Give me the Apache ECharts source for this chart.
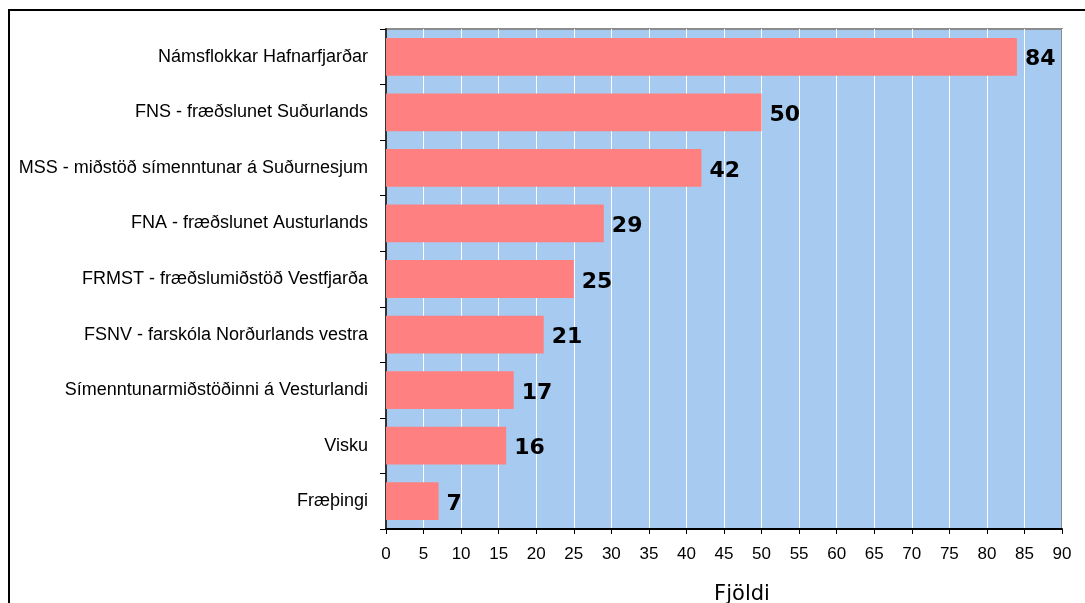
<!DOCTYPE html>
<html>
<head>
<meta charset="utf-8">
<script src="https://cdn.jsdelivr.net/npm/echarts@6/dist/echarts.min.js"></script>
<style>
  html, body { margin: 0; padding: 0; background: #fff; overflow: hidden; }
  .frame {
    position: absolute; left: 8px; top: 9px;
    width: 1200px; height: 700px;
    border: 2px solid #000; box-sizing: border-box;
  }
  .chart { position: absolute; left: 0; top: 0; width: 1085px; height: 603px; }
</style>
</head>
<body>
<div class="frame"></div>
<div class="chart"></div>
<script>
  var categories = [
    "Námsflokkar Hafnarfjarðar",
    "FNS - fræðslunet Suðurlands",
    "MSS - miðstöð símenntunar á Suðurnesjum",
    "FNA - fræðslunet Austurlands",
    "FRMST - fræðslumiðstöð Vestfjarða",
    "FSNV - farskóla Norðurlands vestra",
    "Símenntunarmiðstöðinni á Vesturlandi",
    "Visku",
    "Fræþingi"
  ];
  var values = [84, 50, 42, 29, 25, 21, 17, 16, 7];
  var axisMax = 90;
  var axisStep = 5;

  (function () {
    var myChart = echarts.init(document.querySelector(".chart"));
    var option = {
      animation: false,
      grid: {
        left: 386,
        right: 23,
        top: 29,
        bottom: 74,
        outerBoundsMode: "none",
        containLabel: false,
        show: true,
        backgroundColor: "#a6caf0",
        borderColor: "#8c8c8c",
        borderWidth: 2
      },
      xAxis: {
        type: "value",
        min: 0,
        max: axisMax,
        interval: axisStep,
        name: "Fjöldi",
        nameLocation: "middle",
        nameGap: 55,
        nameTextStyle: {
          fontFamily: "DejaVu Sans",
          fontSize: 21,
          color: "#000",
          padding: [0, 0, 0, 36]
        },
        axisLine: { show: true, lineStyle: { color: "#000", width: 2 } },
        axisTick: { show: true, length: 5, lineStyle: { color: "#000" } },
        axisLabel: {
          margin: 17,
          fontFamily: "Liberation Sans",
          fontSize: 17,
          color: "#000"
        },
        splitLine: { show: true, lineStyle: { color: "#ffffff", width: 1 } }
      },
      yAxis: {
        type: "category",
        data: categories,
        inverse: true,
        axisLine: { show: true, lineStyle: { color: "#333", width: 2 } },
        axisTick: { show: true, length: 6, lineStyle: { color: "#000" } },
        axisLabel: {
          margin: 18,
          fontFamily: "Liberation Sans",
          fontSize: 18,
          color: "#000"
        }
      },
      series: [
        {
          type: "bar",
          data: values,
          barCategoryGap: "32%",
          itemStyle: { color: "#ff8080" },
          label: {
            show: true,
            position: "right",
            distance: 8,
            offset: [0, 3],
            fontFamily: "DejaVu Sans",
            fontWeight: "bold",
            fontSize: 22,
            color: "#000"
          }
        }
      ]
    };
    myChart.setOption(option);

    window.addEventListener("resize", function () {
      myChart.resize();
    });
  })();
</script>
</body>
</html>
